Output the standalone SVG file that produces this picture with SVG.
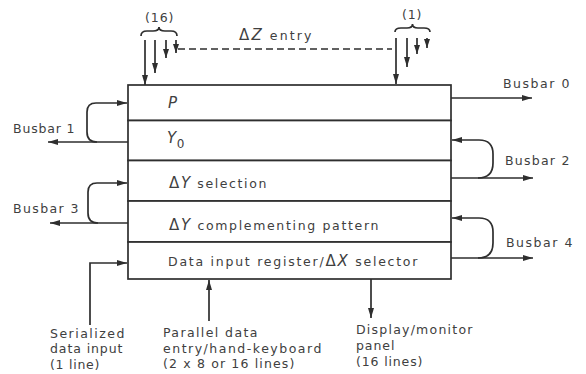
<svg xmlns="http://www.w3.org/2000/svg" width="586" height="374" viewBox="0 0 586 374">
<defs>
<style>
.ln{fill:none;stroke:#2e2e2e;stroke-width:1.7}
.dash{fill:none;stroke:#2e2e2e;stroke-width:1.7;stroke-dasharray:7,4}
.box{fill:#fff;stroke:#2e2e2e;stroke-width:1.7}
.t{font-family:"DejaVu Sans","Liberation Sans",sans-serif;font-size:12.5px;fill:#404040;letter-spacing:0.6px}
.it{font-style:italic}
.d{font-size:15px}
.sub{font-size:12px}
</style>
<marker id="ah" viewBox="0 0 10 6" refX="10" refY="3" markerWidth="10" markerHeight="6" orient="auto" markerUnits="userSpaceOnUse"><path d="M0,0 L10,3 L0,6 z" fill="#2e2e2e"/></marker>
<marker id="as" viewBox="0 0 9 6" refX="9" refY="3" markerWidth="9" markerHeight="6" orient="auto" markerUnits="userSpaceOnUse"><path d="M0,0 L9,3 L0,6 z" fill="#2e2e2e"/></marker>
</defs>
<rect width="586" height="374" fill="#fff"/>

<g id="register">
<g id="row-p"><rect class="box" x="128" y="85" width="323" height="35.5"/><text class="t" x="168" y="108"><tspan class="d it">P</tspan></text></g>
<g id="row-y0"><rect class="box" x="128" y="120.5" width="323" height="40"/><text class="t" x="167" y="143"><tspan class="d it">Y</tspan><tspan class="sub" dy="5">0</tspan></text></g>
<g id="row-dysel"><rect class="box" x="128" y="160.5" width="323" height="40.5"/><text class="t" x="169" y="188" textLength="98" lengthAdjust="spacing"><tspan class="d">Δ</tspan><tspan class="d it">Y</tspan> selection</text></g>
<g id="row-dycomp"><rect class="box" x="128" y="201" width="323" height="41"/><text class="t" x="169" y="230" textLength="210" lengthAdjust="spacing"><tspan class="d">Δ</tspan><tspan class="d it">Y</tspan> complementing pattern</text></g>
<g id="row-data"><rect class="box" x="128" y="242" width="323" height="37"/><text class="t" x="168" y="266" textLength="250" lengthAdjust="spacing">Data input register/<tspan class="d">Δ</tspan><tspan class="d it">X</tspan> selector</text></g>
</g>

<g id="connectors">
<path class="ln" d="M141,36 Q141,31 147,31 H153 Q159,31 159,27 Q159,31 165,31 H171 Q177,31 177,36"/>
<path class="ln" d="M395,32 Q395,28 401,28 H407 Q412.5,28 412.5,24 Q412.5,28 418,28 H424 Q430,28 430,32"/>
<path class="ln" d="M145,40 V85" marker-end="url(#ah)"/>
<path class="ln" d="M155,40 V73" marker-end="url(#ah)"/>
<path class="ln" d="M166,40 V58" marker-end="url(#as)"/>
<path class="ln" d="M176,40 V53" marker-end="url(#as)"/>
<path class="dash" d="M178,49 H392"/>
<path class="ln" d="M396,38 V84" marker-end="url(#ah)"/>
<path class="ln" d="M407,38 V67" marker-end="url(#ah)"/>
<path class="ln" d="M417,38 V54" marker-end="url(#as)"/>
<path class="ln" d="M427,38 V48" marker-end="url(#as)"/>
<path class="ln" d="M128,142 H48" marker-end="url(#ah)"/>
<path class="ln" d="M97,142 Q87,142 87,132 V112 Q87,103 96,103 H127" marker-end="url(#ah)"/>
<path class="ln" d="M128,223 H50" marker-end="url(#ah)"/>
<path class="ln" d="M98,223 Q88,223 88,213 V192 Q88,183 97,183 H127" marker-end="url(#ah)"/>
<path class="ln" d="M451,98 H532" marker-end="url(#ah)"/>
<path class="ln" d="M451,178 H533" marker-end="url(#ah)"/>
<path class="ln" d="M478,178 Q493,178 493,163 V154 Q493,140 479,140 H452" marker-end="url(#ah)"/>
<path class="ln" d="M451,258 H533" marker-end="url(#ah)"/>
<path class="ln" d="M478,258 Q493,258 493,243 V232 Q493,218 479,218 H452" marker-end="url(#ah)"/>
<path class="ln" d="M90,325 V263 H127" marker-end="url(#ah)"/>
<path class="ln" d="M209,321 V280" marker-end="url(#ah)"/>
<path class="ln" d="M371,279 V318" marker-end="url(#ah)"/>
</g>

<g id="labels">
<text class="t" x="145" y="22" textLength="29" lengthAdjust="spacing">(16)</text>
<text class="t" x="402" y="19" textLength="20" lengthAdjust="spacing">(1)</text>
<text class="t" x="239" y="40" textLength="73" lengthAdjust="spacing"><tspan class="d">Δ</tspan><tspan class="d it">Z</tspan> entry</text>
<text class="t" x="13" y="133" textLength="62" lengthAdjust="spacing">Busbar 1</text>
<text class="t" x="13" y="213" textLength="66" lengthAdjust="spacing">Busbar 3</text>
<text class="t" x="503" y="88" textLength="67" lengthAdjust="spacing">Busbar 0</text>
<text class="t" x="505" y="165" textLength="65" lengthAdjust="spacing">Busbar 2</text>
<text class="t" x="506" y="247" textLength="67" lengthAdjust="spacing">Busbar 4</text>
<text class="t" x="50" y="338" textLength="75" lengthAdjust="spacing">Serialized</text>
<text class="t" x="50" y="353" textLength="73" lengthAdjust="spacing">data input</text>
<text class="t" x="50" y="369" textLength="50" lengthAdjust="spacing">(1 line)</text>
<text class="t" x="163" y="337" textLength="95" lengthAdjust="spacing">Parallel data</text>
<text class="t" x="163" y="353" textLength="159" lengthAdjust="spacing">entry/hand-keyboard</text>
<text class="t" x="163" y="368" textLength="132" lengthAdjust="spacing">(2 x 8 or 16 lines)</text>
<text class="t" x="356" y="334" textLength="117" lengthAdjust="spacing">Display/monitor</text>
<text class="t" x="356" y="350" textLength="39" lengthAdjust="spacing">panel</text>
<text class="t" x="356" y="366" textLength="67" lengthAdjust="spacing">(16 lines)</text>
</g>
</svg>
